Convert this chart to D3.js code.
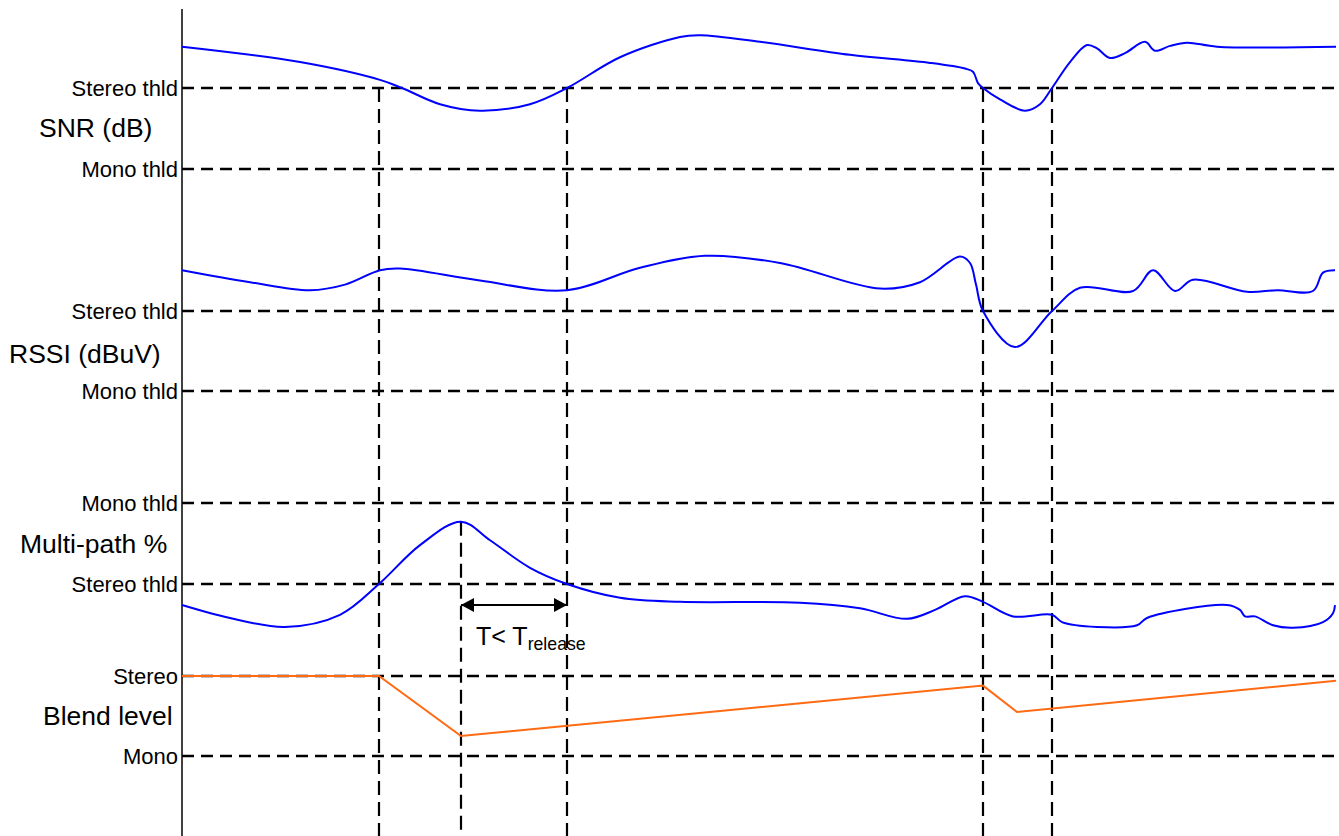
<!DOCTYPE html>
<html>
<head>
<meta charset="utf-8">
<script src="https://cdn.jsdelivr.net/npm/d3@7"></script>
<style>
  body { margin: 0; background: #fff; }
  text { font-family: Arial, "Liberation Sans", sans-serif; fill: #000; }
</style>
</head>
<body>
<svg id="canvas" width="1339" height="836"></svg>
<script>
// sampled traces, time in arbitrary units, levels relative to the thresholds
const snrTime = [0, 118, 198, 220, 258, 298, 348, 385, 438, 498, 518, 578, 668, 748, 783, 791, 796, 801, 818, 843, 858, 870, 888, 905, 915, 928, 943, 963, 973, 988, 1005, 1035, 1154];
const snrValue = [15.1, 13.2, 11.0, 10.0, 8.0, 7.2, 8.0, 10.0, 13.8, 16.3, 16.5, 15.7, 14.1, 13.1, 12.4, 12.0, 10.6, 10.0, 8.6, 7.2, 8.0, 10.0, 13.2, 15.3, 14.9, 13.7, 14.3, 15.7, 14.6, 15.2, 15.6, 15.1, 15.1];

const rssiTime = [0, 68, 128, 163, 198, 218, 298, 385, 458, 523, 598, 698, 738, 778, 788, 794, 801, 833, 870, 898, 951, 971, 993, 1011, 1065, 1095, 1131, 1141, 1153];
const rssiValue = [15.1, 13.6, 12.6, 13.3, 15.1, 15.3, 13.8, 12.6, 15.4, 16.9, 16.0, 12.8, 13.6, 16.8, 16.0, 13.3, 10.0, 5.5, 10.0, 12.9, 12.5, 15.1, 12.5, 13.9, 12.4, 12.6, 12.5, 14.8, 15.1];

const mpTime = [0, 48, 103, 158, 197, 238, 279, 308, 348, 385, 438, 498, 618, 678, 725, 753, 783, 801, 831, 870, 880, 915, 955, 965, 1045, 1058, 1063, 1073, 1091, 1111, 1141, 1151, 1153];
const mpValue = [7.4, 5.8, 4.7, 6.2, 10.0, 14.8, 17.7, 15.4, 12.0, 10.0, 8.3, 7.8, 7.7, 7.0, 5.7, 6.8, 8.5, 7.8, 6.0, 6.2, 5.3, 4.7, 4.9, 5.8, 7.4, 6.8, 6.0, 6.0, 4.9, 4.6, 5.3, 6.4, 7.4];

const blendTime = [0, 197, 279, 801, 835, 1154];
const blendValue = [1.0, 1.0, 0.25, 0.88, 0.55, 0.94];

const snrTicks = [0, 10];
const snrTickLabels = ["Mono thld", "Stereo thld"];
const rssiTicks = [0, 10];
const rssiTickLabels = ["Mono thld", "Stereo thld"];
const mpTicks = [10, 20];
const mpTickLabels = ["Stereo thld", "Mono thld"];
const blendTicks = [0, 1];
const blendTickLabels = ["Mono", "Stereo"];

const eventTime = [197, 279, 385, 801, 870];
const eventPanel = ["snr", "mp", "snr", "snr", "snr"];
const eventValue = [10, 17.7, 10, 10, 10];

const canvas = d3.select("#canvas");
const width = 1339;
const height = 836;
const left = 182;

const x = d3.scaleLinear().domain([0, 1157]).range([left, width]);

const panels = [
  { key: "snr", title: "SNR (dB)", time: snrTime, value: snrValue, ticks: snrTicks, labels: snrTickLabels,
    y: d3.scaleLinear().domain([0, 10]).range([169, 88]), tx: 39, ty: 137 },
  { key: "rssi", title: "RSSI (dBuV)", time: rssiTime, value: rssiValue, ticks: rssiTicks, labels: rssiTickLabels,
    y: d3.scaleLinear().domain([0, 10]).range([391, 311]), tx: 9, ty: 363 },
  { key: "mp", title: "Multi-path %", time: mpTime, value: mpValue, ticks: mpTicks, labels: mpTickLabels,
    y: d3.scaleLinear().domain([10, 20]).range([584, 503]), tx: 20, ty: 553 },
  { key: "blend", title: "Blend level", time: blendTime, value: blendValue, ticks: blendTicks, labels: blendTickLabels,
    y: d3.scaleLinear().domain([0, 1]).range([756, 676]), tx: 43, ty: 725 }
];
const panelByKey = {};
panels.forEach((p) => (panelByKey[p.key] = p));

// threshold grid lines
panels.forEach((p) => {
  canvas
    .append("g")
    .selectAll("line")
    .data(p.ticks)
    .enter()
    .append("line")
    .attr("x1", left)
    .attr("x2", width)
    .attr("y1", (d) => p.y(d))
    .attr("y2", (d) => p.y(d))
    .attr("stroke", "#000")
    .attr("stroke-width", 2.6)
    .attr("stroke-dasharray", "12,7");
});

// event markers
canvas
  .append("g")
  .selectAll("line")
  .data(eventTime)
  .enter()
  .append("line")
  .attr("x1", (d) => x(d))
  .attr("x2", (d) => x(d))
  .attr("y1", (d, i) => panelByKey[eventPanel[i]].y(eventValue[i]))
  .attr("y2", height)
  .attr("stroke", "#000")
  .attr("stroke-width", 2.2)
  .attr("stroke-dasharray", "14,7");

// axes with threshold labels
panels.forEach((p) => {
  const axis = d3
    .axisLeft(p.y)
    .tickValues(p.ticks)
    .tickFormat((d, i) => p.labels[i])
    .tickSize(0)
    .tickPadding(4);
  const g = canvas.append("g").attr("transform", `translate(${left},0)`).call(axis);
  g.select(".domain").remove();
  g.selectAll("text").style("font-size", "22px").attr("fill", "#000");

  canvas
    .append("text")
    .attr("x", p.tx)
    .attr("y", p.ty)
    .style("font-size", "26.5px")
    .text(p.title);
});

canvas
  .append("line")
  .attr("x1", left)
  .attr("x2", left)
  .attr("y1", 9)
  .attr("y2", height)
  .attr("stroke", "#000")
  .attr("stroke-width", 1.5);

// traces
panels.forEach((p) => {
  const pts = p.time.map((t, i) => [t, p.value[i]]);
  const line = d3
    .line()
    .x((d) => x(d[0]))
    .y((d) => p.y(d[1]))
    .curve(p.key === "blend" ? d3.curveLinear : d3.curveCatmullRom.alpha(0.5));
  canvas
    .append("path")
    .datum(pts)
    .attr("d", line)
    .attr("fill", "none")
    .attr("stroke", p.key === "blend" ? "#ff6a13" : "#0000ff")
    .attr("stroke-width", 2);
});

// release time arrow
canvas
  .append("defs")
  .append("marker")
  .attr("id", "head")
  .attr("viewBox", "0 0 13 14")
  .attr("refX", 13)
  .attr("refY", 7)
  .attr("markerWidth", 13)
  .attr("markerHeight", 14)
  .attr("markerUnits", "userSpaceOnUse")
  .attr("orient", "auto-start-reverse")
  .append("path")
  .attr("d", "M0,0L13,7L0,14Z")
  .attr("fill", "#000");

canvas
  .append("line")
  .attr("x1", x(eventTime[1]))
  .attr("x2", x(eventTime[2]))
  .attr("y1", 605)
  .attr("y2", 605)
  .attr("stroke", "#000")
  .attr("stroke-width", 2)
  .attr("marker-start", "url(#head)")
  .attr("marker-end", "url(#head)");

const note = canvas
  .append("text")
  .attr("x", 476)
  .attr("y", 645)
  .style("font-size", "25px")
  .text("T< T");
note.append("tspan").attr("dy", 5).style("font-size", "17.7px").text("release");
</script>
</body>
</html>
